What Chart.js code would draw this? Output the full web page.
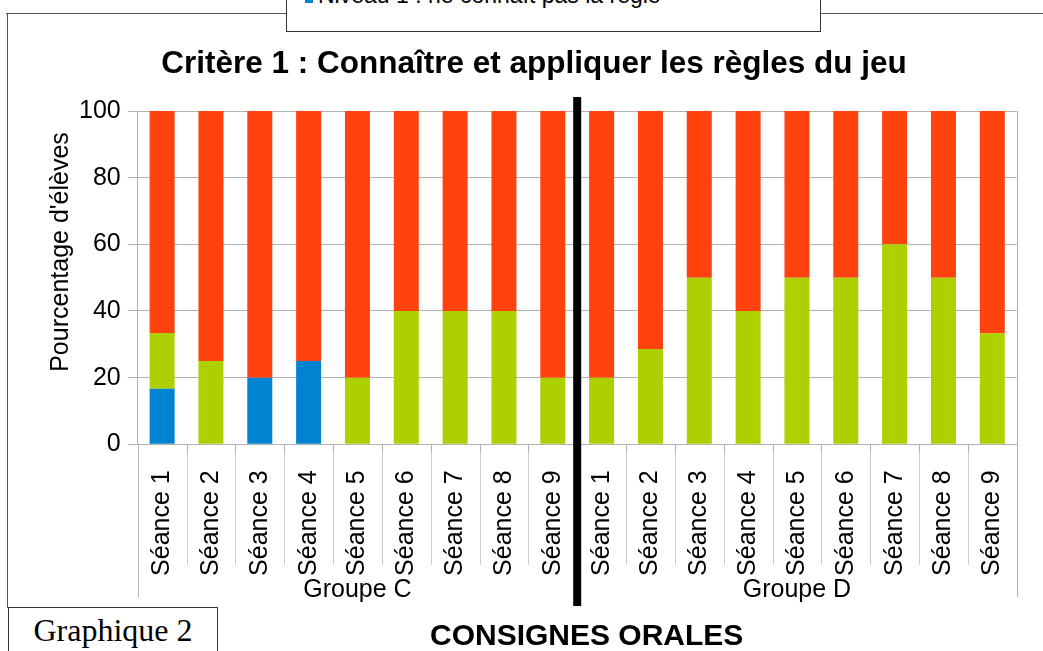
<!DOCTYPE html>
<html>
<head>
<meta charset="utf-8">
<script src="https://cdn.jsdelivr.net/npm/chart.js@4.4.1/dist/chart.umd.min.js"></script>
<style>
    body { margin: 0; background: #fff; }
    #wrap { position: relative; width: 1043px; height: 651px; overflow: hidden; font-family: "Liberation Sans", Arial, sans-serif; }
    #chart { position: absolute; left: 0; top: 0; }
    .frame-top { position: absolute; left: 6px; top: 13px; width: 1040px; border-top: 1px solid #555; }
    .frame-left { position: absolute; left: 7px; top: 13px; height: 595px; border-left: 1px solid #555; }
    .legend { position: absolute; left: 286px; top: -40px; width: 533px; height: 70px; border: 1px solid #333; background: #fff; }
    .legend .swatch { position: absolute; left: 18px; top: 34px; width: 8px; height: 8px; background: #0084d1; }
    .legend .text { position: absolute; left: 31px; top: 22.5px; font-size: 23px; line-height: 23px; white-space: nowrap; color: #000; }
    .graph-box { position: absolute; left: 8px; top: 607px; width: 208px; height: 60px; border: 1px solid #333; background: #fff;
                 font-family: "Liberation Serif", "Times New Roman", serif; font-size: 32px; line-height: 32px; text-align: center; padding-top: 6px; box-sizing: content-box; }
    .consignes { position: absolute; left: 430px; top: 619.6px; font-size: 30px; line-height: 30px; font-weight: bold; white-space: nowrap; }
</style>
</head>
<body>
<div id="wrap">
    <canvas id="chart" width="1043" height="651"></canvas>
    <div class="frame-top"></div>
    <div class="frame-left"></div>
    <div class="legend">
        <div class="swatch"></div>
        <div class="text">Niveau 1 : ne connaît pas la règle</div>
    </div>
    <div class="graph-box">Graphique 2</div>
    <div class="consignes">CONSIGNES ORALES</div>
</div>
<script>
// Data (percent of pupils)
const categories = [
    'Séance 1', 'Séance 2', 'Séance 3', 'Séance 4', 'Séance 5', 'Séance 6', 'Séance 7', 'Séance 8', 'Séance 9',
    'Séance 1', 'Séance 2', 'Séance 3', 'Séance 4', 'Séance 5', 'Séance 6', 'Séance 7', 'Séance 8', 'Séance 9'
];
const groups = ['Groupe C', 'Groupe D'];
const groupSize = 9;
const seriesLabels = ['Niveau 1 : ne connaît pas la règle', 'Niveau 2', 'Niveau 3'];
const niveau1 = [16.7, 0, 20, 25, 0, 0, 0, 0, 0, 0, 0, 0, 0, 0, 0, 0, 0, 0];
const niveau2 = [16.7, 25, 0, 0, 20, 40, 40, 40, 20, 20, 28.6, 50, 40, 50, 50, 60, 50, 33.3];
const niveau3 = [66.6, 75, 80, 75, 80, 60, 60, 60, 80, 80, 71.4, 50, 60, 50, 50, 40, 50, 66.7];
const yTicks = [0, 20, 40, 60, 80, 100];

const FONT = '"Liberation Sans", Arial, sans-serif';
Chart.defaults.font.family = FONT;
Chart.defaults.color = '#000';

// Extra drawing: y title, category separators, group labels, thick divider
const decor = {
    id: 'decor',
    afterDraw(chart) {
        const { ctx, chartArea: a, scales: { x } } = chart;
        ctx.save();

        // separators between categories in the label area
        ctx.strokeStyle = '#cccccc';
        ctx.lineWidth = 1;
        for (let i = 1; i < categories.length; i++) {
            const px = Math.round(x.getPixelForValue(i - 0.5)) + 0.5;
            ctx.beginPath();
            ctx.moveTo(px, a.bottom);
            ctx.lineTo(px, 565);
            ctx.stroke();
        }
        // short tick marks
        ctx.strokeStyle = '#b3b3b3';
        for (let i = 1; i < categories.length; i++) {
            const px = Math.round(x.getPixelForValue(i - 0.5)) + 0.5;
            ctx.beginPath();
            ctx.moveTo(px, a.bottom);
            ctx.lineTo(px, a.bottom + 8);
            ctx.stroke();
        }
        // outer lines
        const left = Math.round(a.left) + 0.5;
        const right = Math.round(a.right) + 0.5;
        ctx.beginPath();
        ctx.moveTo(left, a.bottom);
        ctx.lineTo(left, 597);
        ctx.moveTo(right, a.top);
        ctx.lineTo(right, 597);
        ctx.stroke();

        // group labels
        ctx.fillStyle = '#000';
        ctx.font = '25px ' + FONT;
        ctx.textAlign = 'center';
        ctx.textBaseline = 'alphabetic';
        groups.forEach((g, gi) => {
            const mid = x.getPixelForValue(gi * groupSize + (groupSize - 1) / 2);
            ctx.fillText(g, mid, 597);
        });

        // y axis title
        ctx.save();
        ctx.translate(61, 252);
        ctx.rotate(-Math.PI / 2);
        ctx.textBaseline = 'middle';
        ctx.fillText("Pourcentage d'élèves", 0, 0);
        ctx.restore();

        // thick divider between the two groups
        const divX = x.getPixelForValue(groupSize - 0.5);
        ctx.strokeStyle = '#000';
        ctx.lineWidth = 8;
        ctx.beginPath();
        ctx.moveTo(divX, 97);
        ctx.lineTo(divX, 606);
        ctx.stroke();

        ctx.restore();
    }
};

new Chart(document.getElementById('chart').getContext('2d'), {
    type: 'bar',
    data: {
        labels: categories,
        datasets: [
            { label: seriesLabels[0], data: niveau1, backgroundColor: '#0084d1' },
            { label: seriesLabels[1], data: niveau2, backgroundColor: '#aecf00' },
            { label: seriesLabels[2], data: niveau3, backgroundColor: '#ff420e' }
        ]
    },
    options: {
        responsive: false,
        animation: false,
        devicePixelRatio: 1,
        layout: { padding: { left: 51.3, right: 26.3, top: 45.2, bottom: 0 } },
        datasets: { bar: { categoryPercentage: 1, barPercentage: 0.512 } },
        plugins: {
            legend: { display: false },
            tooltip: { enabled: false },
            title: {
                display: true,
                text: 'Critère 1 : Connaître et appliquer les règles du jeu',
                color: '#000',
                font: { family: FONT, size: 31.5, weight: 'bold' },
                padding: { top: 0, bottom: 28 }
            }
        },
        scales: {
            x: {
                stacked: true,
                grid: { display: false },
                border: { display: true, color: '#b3b3b3' },
                ticks: { font: { size: 25 }, minRotation: 90, maxRotation: 90, autoSkip: false, padding: 18 },
                afterFit: (s) => { s.height = 206.7; }
            },
            y: {
                stacked: true,
                min: yTicks[0],
                max: yTicks[yTicks.length - 1],
                afterBuildTicks: (s) => { s.ticks = yTicks.map(v => ({ value: v })); },
                grid: { color: '#b3b3b3', tickLength: 10 },
                border: { color: '#b3b3b3' },
                ticks: { font: { size: 25 }, padding: 7 },
                afterFit: (s) => { s.width = 86.4; }
            }
        }
    },
    plugins: [decor]
});
</script>
</body>
</html>
